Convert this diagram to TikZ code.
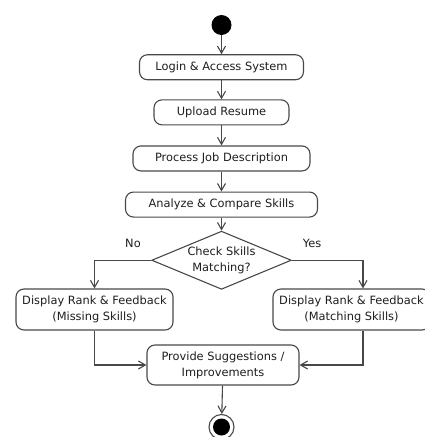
\documentclass[tikz,border=0pt]{standalone}
\usepackage{fontspec}
\setmainfont{DejaVu Sans}
\usepackage{tikz}
\usetikzlibrary{shapes.geometric,arrows.meta,positioning}
\definecolor{linegray}{HTML}{484848}
\definecolor{textgray}{HTML}{1E1E1E}

\begin{document}
\begin{tikzpicture}[
    x=1pt, y=-1pt,
    action/.style={rectangle, draw=linegray, line width=1.1pt, rounded corners=8pt, minimum height=25pt, align=center, text=textgray, font=\fontsize{11.4}{16}\selectfont},
    decision/.style={diamond, draw=linegray, line width=1.1pt, aspect=2.4, inner sep=1pt, minimum width=136pt, minimum height=57pt, align=center, text=textgray, font=\fontsize{11.4}{16}\selectfont},
    guard/.style={text=textgray, font=\fontsize{11.4}{14}\selectfont},
    startnode/.style={circle, fill=black, minimum size=20pt, inner sep=0pt},
    endnode/.style={circle, draw=linegray, line width=1.1pt, fill=white, minimum size=25pt, inner sep=0pt, path picture={\fill[black] (path picture bounding box.center) circle (8.5pt);}},
    arrow/.style={draw=linegray, line width=1.1pt, -{Straight Barb[length=7pt,width=8pt]}}
]
    \useasboundingbox (0,0) rectangle (424,437);

    \node[startnode] (start) at (221.5,25) {};
    \node[action, minimum width=164pt, below=19pt of start] (login) {Login \& Access System};
    \node[action, minimum width=135pt, below=19pt of login] (upload) {Upload Resume};
    \node[action, minimum width=177pt, below=20pt of upload] (process) {Process Job Description};
    \node[action, minimum width=192pt, below=20pt of process] (analyze) {Analyze \& Compare Skills};
    \node[decision, below=13pt of analyze] (check) {Check Skills\\Matching?};

    \node[guard] (no) at (133,243) {No};
    \node[guard] (yes) at (312,243) {Yes};

    \node[action, minimum width=157pt, minimum height=41pt] (missing) at (94.5,309.5) {Display Rank \& Feedback\\(Missing Skills)};
    \node[action, minimum width=157pt, minimum height=41pt] (matching) at (351.5,309.5) {Display Rank \& Feedback\\(Matching Skills)};
    \node[action, minimum width=152pt, minimum height=40pt] (suggest) at (223,365) {Provide Suggestions /\\Improvements};
    \node[endnode] (stop) at (221.5,427) {};

    \draw[arrow] (start) -- (login);
    \draw[arrow] (login) -- (upload);
    \draw[arrow] (upload) -- (process);
    \draw[arrow] (process) -- (analyze);
    \draw[arrow] (analyze) -- (check);
    \draw[arrow] (check.west) -| (missing.north);
    \draw[arrow] (check.east) -| ([xshift=11.5pt]matching.north);
    \draw[arrow] (missing.south) |- (suggest.west);
    \draw[arrow] ([xshift=11.5pt]matching.south) |- (suggest.east);
    \draw[arrow] (suggest) -- (stop);
\end{tikzpicture}
\end{document}
